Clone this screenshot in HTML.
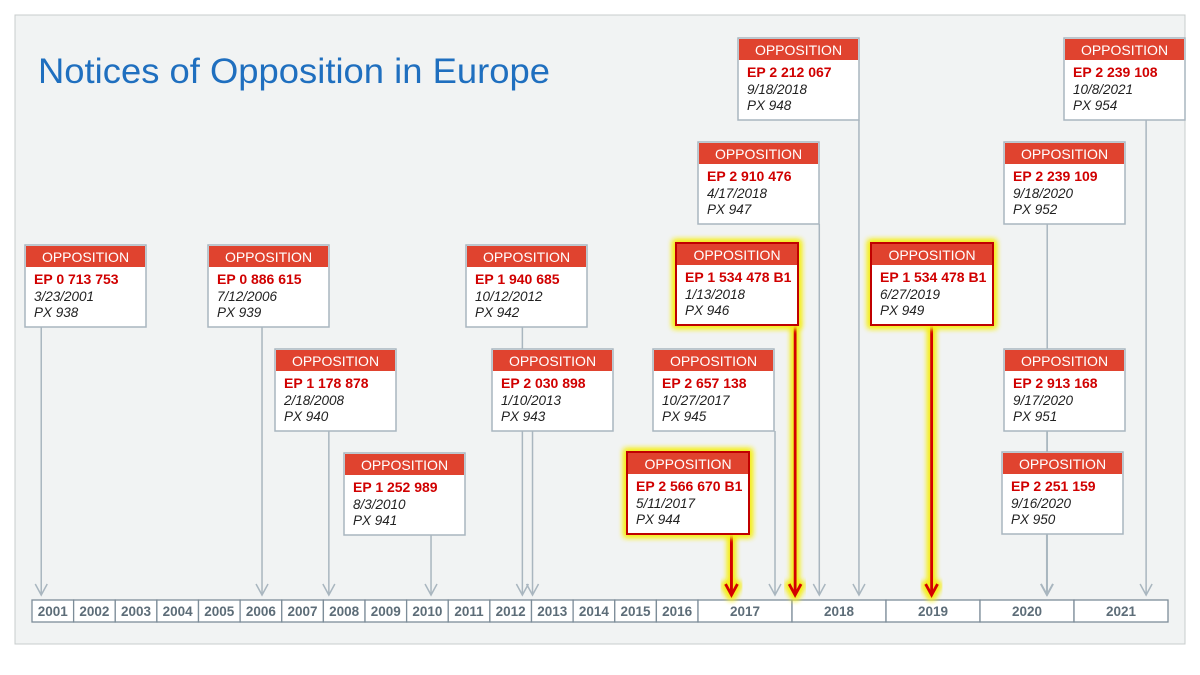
<!DOCTYPE html>
<html><head><meta charset="utf-8"><style>
body{margin:0;background:#fff;}
svg{display:block;font-family:"Liberation Sans",sans-serif;}
</style></head><body>
<svg id="chart" width="1200" height="675">
<defs>
<filter id="glow" x="-40%" y="-40%" width="180%" height="180%">
<feMorphology in="SourceAlpha" operator="dilate" radius="2" result="d"/>
<feGaussianBlur in="d" stdDeviation="3" result="b"/>
<feFlood flood-color="#f5ee20"/>
<feComposite in2="b" operator="in" result="g"/>
<feMerge><feMergeNode in="g"/><feMergeNode in="g"/><feMergeNode in="SourceGraphic"/></feMerge>
</filter>
</defs>
<rect x="15" y="15" width="1170" height="629" fill="#f1f3f3" stroke="#c8cccc"/>
<text x="38" y="83" font-size="35" fill="#1f6fbf" textLength="512" lengthAdjust="spacingAndGlyphs">Notices of Opposition in Europe</text>
<g id="axis"></g>
<g id="lines"></g>
<g id="cards"></g>
</svg>
<script>
const years = [2001,2002,2003,2004,2005,2006,2007,2008,2009,2010,2011,2012,2013,2014,2015,2016,2017,2018,2019,2020,2021];
const patents = ["EP 0 713 753","EP 0 886 615","EP 1 178 878","EP 1 252 989","EP 1 940 685","EP 2 030 898","EP 2 566 670 B1","EP 2 657 138","EP 1 534 478 B1","EP 2 910 476","EP 2 212 067","EP 1 534 478 B1","EP 2 913 168","EP 2 251 159","EP 2 239 109","EP 2 239 108"];
const dates = ["3/23/2001","7/12/2006","2/18/2008","8/3/2010","10/12/2012","1/10/2013","5/11/2017","10/27/2017","1/13/2018","4/17/2018","9/18/2018","6/27/2019","9/17/2020","9/16/2020","9/18/2020","10/8/2021"];
const exhibits = ["PX 938","PX 939","PX 940","PX 941","PX 942","PX 943","PX 944","PX 945","PX 946","PX 947","PX 948","PX 949","PX 951","PX 950","PX 952","PX 954"];
const highlighted = [false,false,false,false,false,false,true,false,true,false,false,true,false,false,false,false];
// card layout (left, top)
const cardLeft = [25,208,275,344,466,492,627,653,676,698,738,871,1004,1002,1004,1064];
const cardTop = [245,245,349,453,245,349,452,349,243,142,38,243,349,452,142,38];

const NS="http://www.w3.org/2000/svg";
function mk(tag,attrs,parent){const e=document.createElementNS(NS,tag);for(const k in attrs)e.setAttribute(k,attrs[k]);parent.appendChild(e);return e;}
function yearStart(y){ if(y<=2017) return 32+(y-2001)*41.625; return 698+(y-2017)*94; }
function yearWidth(y){ return y<2017?41.625:94; }
function xScale(d){const p=d.split('/').map(Number);const y=p[2];const doy=(new Date(y,p[0]-1,p[1])-new Date(y,0,1))/86400000;return yearStart(y)+yearWidth(y)*doy/365;}
const axis=document.getElementById('axis'),lines=document.getElementById('lines'),cards=document.getElementById('cards');
const AY=600,AH=22;
years.forEach(y=>{
  const g=mk('g',{},axis);
  
  
  mk('rect',{x:yearStart(y),y:AY,width:yearWidth(y),height:AH,fill:'#fff',stroke:'#7d8d99','stroke-width':1.3},g);
  const t=mk('text',{x:yearStart(y)+yearWidth(y)/2,y:AY+16,'text-anchor':'middle','font-size':13.5,'font-weight':'bold',fill:'#5d6d78'},g);
  t.textContent=y;
});
patents.forEach((p,i)=>{
  const x=xScale(dates[i]),top=cardTop[i],h=highlighted[i];
  const bottom=top+82,tip=595;
  const ln=mk('g',{},lines);
  
  
  const col=h?'#d40000':'#a9b6bf',sw=h?3:1.5;
  if(h) ln.setAttribute('filter','url(#glow)');
  mk('line',{x1:x,y1:bottom,x2:x,y2:tip-1,stroke:col,'stroke-width':sw},ln);
  mk('polyline',{points:`${x-6},${tip-11} ${x},${tip} ${x+6},${tip-11}`,fill:'none',stroke:col,'stroke-width':sw},ln);
});
patents.forEach((p,i)=>{
  const L=cardLeft[i],T=cardTop[i],h=highlighted[i],W=h?122:121;
  const g=mk('g',{},cards);
  
  
  if(h) g.setAttribute('filter','url(#glow)');
  mk('rect',{x:L,y:T,width:W,height:82,fill:'#fff',stroke:h?'#c00000':'#a9b6bf','stroke-width':h?2:1.5},g);
  mk('rect',{x:L+1,y:T+1,width:W-2,height:21,fill:'#e0432f'},g);
  const t0=mk('text',{x:L+W/2,y:T+17,'text-anchor':'middle','font-size':14,fill:'#fff'},g);t0.textContent='OPPOSITION';
  const t1=mk('text',{x:L+9,y:T+39,'font-size':14,'font-weight':'bold',fill:'#d00000'},g);t1.textContent=p;
  const t2=mk('text',{x:L+9,y:T+56,'font-size':13.5,'font-style':'italic',fill:'#222'},g);t2.textContent=dates[i];
  const t3=mk('text',{x:L+9,y:T+72,'font-size':13.5,'font-style':'italic',fill:'#222'},g);t3.textContent=exhibits[i];
});
</script>
</body></html>
